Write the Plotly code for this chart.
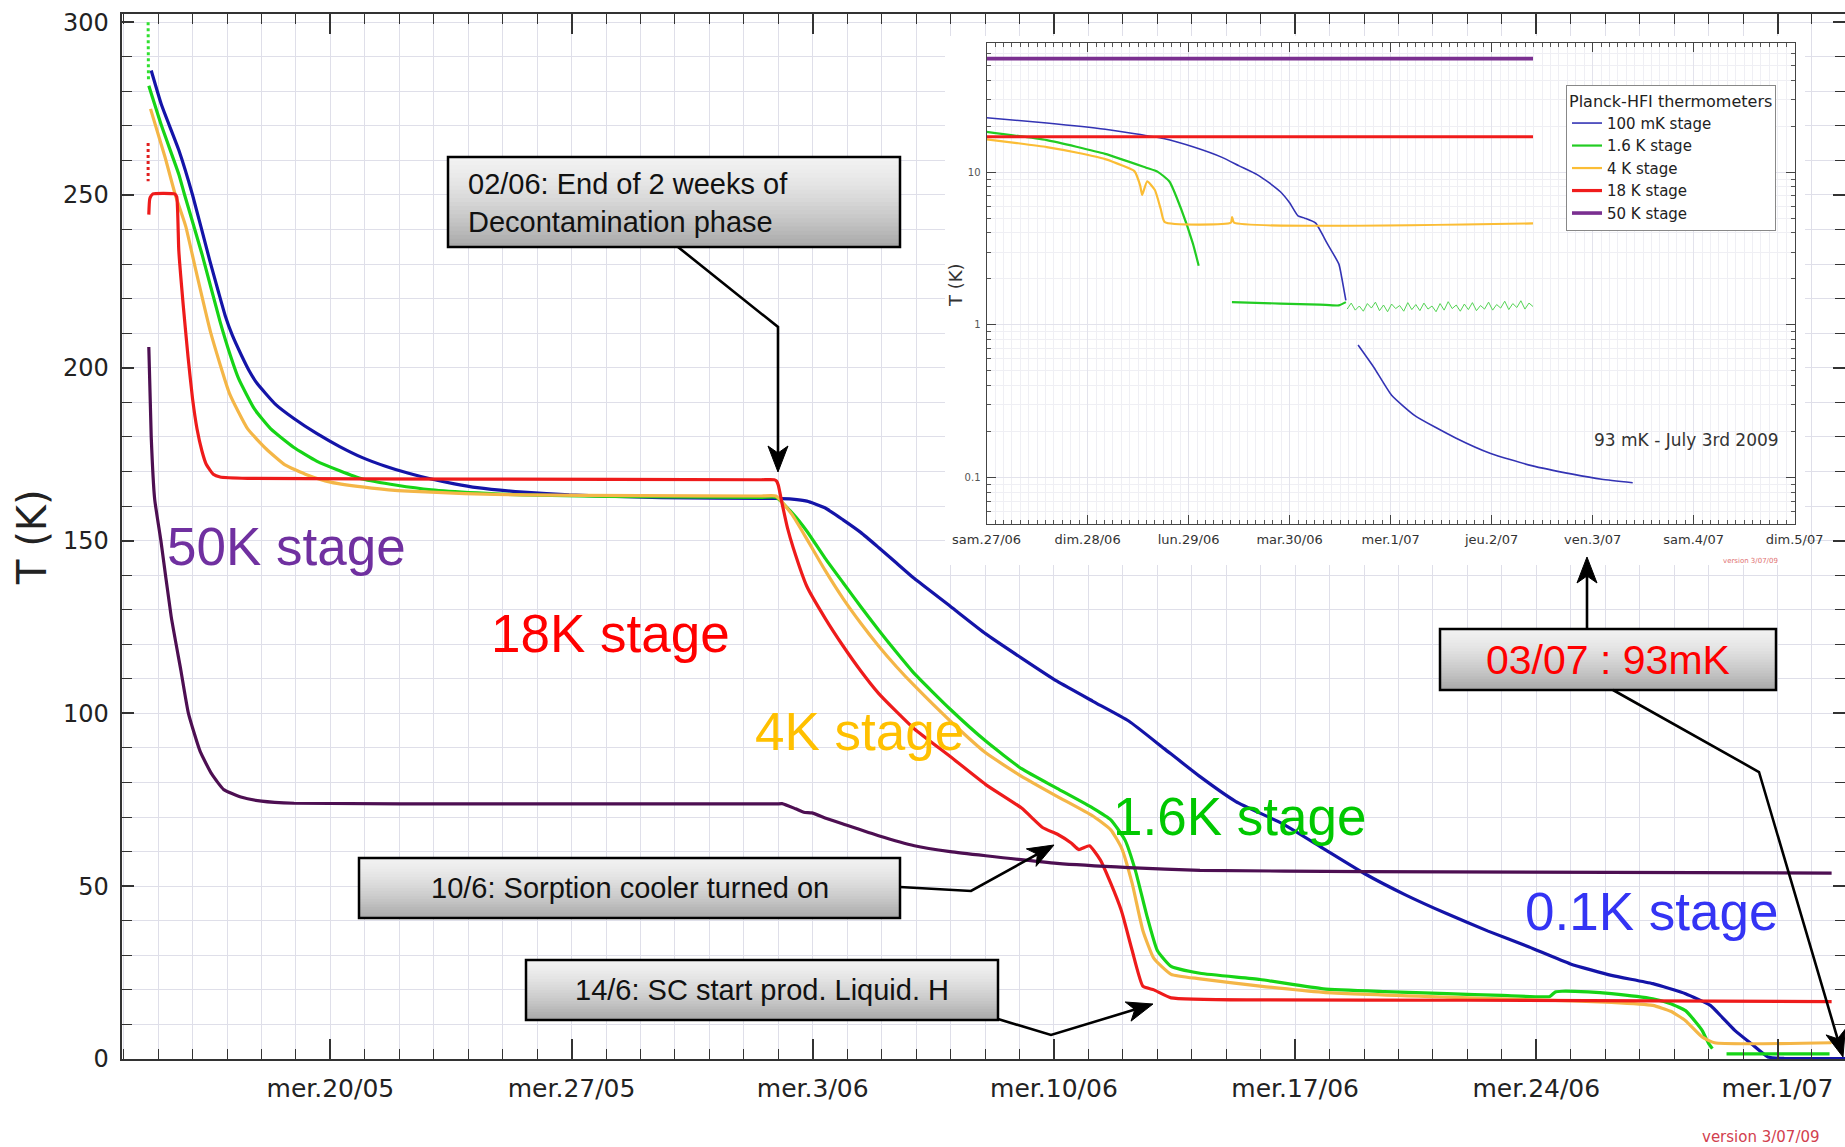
import plotly.graph_objects as go
import pandas as pd

W, H = 1845, 1147

# ---------------- main panel data: day offset from 2009-05-20 00:00, temperature in K
BLUE_DAY = [-5.2, -4.9, -4.4, -4.0, -3.5, -3.25, -3.05, -2.85, -2.6, -2.35, -2.13, -1.6, -1.07, -0.4, 0.27, 0.93,
            1.6, 2.27, 2.93, 3.6, 4.26, 5.6, 6.93, 9.6, 12.93, 13.4, 13.83, 14.35, 14.88, 15.4, 15.91, 16.43,
            16.95, 17.99, 19.02, 20.06, 21.09, 22.13, 23.17, 24.2, 25.24, 26.28, 27.63, 28.8, 30.02, 31.2, 32.41,
            33.6, 34.79, 35.99, 37.18, 38.38, 39.33, 40.05, 40.4, 40.76, 41.24, 41.72, 42.2, 44.1]
BLUE_T = [286, 276, 263, 250, 231, 222, 215, 209.5, 204, 199, 195.5, 189.5, 185.4, 181, 177.2, 174,
          171.5, 169.5, 167.8, 166.4, 165.3, 164, 163.2, 162.4, 162.2, 162.0, 161.4, 159.5, 156, 152.3, 148, 143.5,
          139, 131, 123, 116, 109.3, 103.5, 97.8, 89.8, 81.7, 74.5, 68.1, 61, 53.6, 47.5, 42,
          37, 32.4, 27.5, 24.2, 21.8, 18.9, 15.5, 12, 8.3, 4.4, 0.6, 0.15, 0.1]

GREEN_DAY = [-5.27, -4.9, -4.4, -4.23, -3.73, -3.2, -2.9, -2.66, -2.2, -1.73, -1.07, -0.4, 0.27, 0.93, 1.93, 2.93,
             4.26, 5.6, 8.0, 12.5, 12.93, 13.4, 13.83, 14.35, 14.88, 15.4, 15.91, 16.43, 16.95, 17.99, 19.02,
             20.06, 21.09, 22.13, 22.65, 23.06, 23.37, 23.69, 24.0, 24.4, 25.24, 26.98, 28.82, 30.6, 32.41, 34.0,
             35.39, 35.55, 35.75, 36.5, 37.18, 38.38, 38.9, 39.33, 39.6, 39.81, 40.0, 40.11, None, 40.52, 43.51]
GREEN_T = [281.6, 270, 256, 250, 233, 213.3, 203.5, 196.8, 188, 182.3, 177, 173, 170.2, 167.8, 166, 164.7,
           163.8, 163.2, 162.8, 162.5, 162.5, 158, 152.7, 145, 137.8, 130.8, 124.1, 117.7, 111.5, 101.2, 92,
           84, 78.3, 72.6, 69.2, 63.4, 54.3, 41.7, 31.4, 26.8, 24.8, 23, 20.3, 19.5, 18.9, 18.4,
           18.1, 19.4, 19.6, 19.4, 18.9, 17.4, 16, 14.0, 11, 8.3, 4.5, 3.0, None, 1.5, 1.5]

ORANGE_DAY = [-5.22, -4.8, -4.5, -4.2, -3.9, -3.47, -2.93, -2.4, -1.86, -1.33, -0.67, 0, 1.2, 2.26, 3.9, 5.6,
              9.0, 12.5, 12.93, 13.4, 13.83, 14.35, 14.88, 15.4, 15.91, 16.43, 16.95, 17.99, 19.02, 20.06,
              21.09, 22.13, 22.65, 22.96, 23.27, 23.58, 23.9, 24.4, 25.24, 26.98, 28.82, 32.41, 35.0, 37.18,
              38.38, 38.9, 39.33, 39.81, 40.17, 43.57]
ORANGE_T = [274.9, 261, 250, 241, 228, 210, 192.6, 182.3, 176.5, 172, 169, 166.9, 165.2, 164.3, 163.6, 163.2,
            163, 162.9, 162.9, 157.5, 150.4, 141.5, 133.2, 126, 119.5, 113.5, 108, 97.8, 88.6, 81.8,
            76, 70.3, 66.3, 61.1, 50.8, 37.2, 29.1, 24.5, 23.2, 21.1, 19.3, 17.9, 17.1, 16.4,
            15.5, 13.8, 11.1, 6.4, 4.7, 4.7]

RED_DAY = [-5.27, -5.24, -5.15, -4.52, -4.46, -4.4, -4.27, -4.13, -4.0, -3.87, -3.73, -3.6, -3.4, -3.2, -2.4,
           4.0, 12.5, 12.88, 12.95, 13.0, 13.11, 13.27, 13.43, 13.83, 14.36, 14.88, 15.4, 15.91, 16.43, 16.95,
           17.99, 19.02, 20.06, 20.68, 21.09, 21.5, 21.72, 22.03, 22.34, 22.65, 22.96, 23.27, 23.58, 23.9,
           24.4, 26.98, 33.0, 43.57]
RED_T = [244.3, 249, 250.3, 250.3, 249.5, 234, 218, 203, 191, 182.3, 176, 172, 169.2, 168.4, 168,
         167.8, 167.6, 167.6, 167.2, 166, 160.7, 153.5, 148, 136.7, 127.5, 119.5, 112.2, 105.8, 100.5, 95.5,
         87.5, 79.4, 72.6, 66.9, 65.1, 62.5, 60.6, 61.7, 57.7, 50.8, 42.8, 31.4, 21.1, 20,
         17.7, 17.1, 17.0, 16.6]

PURPLE_DAY = [-5.27, -5.2, -5.1, -4.92, -4.62, -4.34, -4.12, -3.78, -3.44, -3.1, -2.6, -2.0, -1.05, 5.0, 12.6,
              12.95, 13.11, 13.5, 13.74, 13.97, 14.4, 14.88, 15.91, 16.95, 17.99, 19.02, 21.09, 23.17, 25.24,
              30.0, 43.57]
PURPLE_T = [206, 180, 162, 150, 128, 112.5, 100, 89, 82.4, 78, 75.8, 74.6, 74, 73.8, 73.8,
            73.8, 73.9, 72.4, 71.4, 71.2, 69.6, 68, 64.6, 61.7, 60, 58.8, 56.6, 55.4, 54.6,
            54.2, 53.8]

# early noisy readings (drawn dashed)
GREEN_EARLY_DAY = [-5.29, -5.28]
GREEN_EARLY_T = [300, 283]
RED_EARLY_DAY = [-5.29, -5.29]
RED_EARLY_T = [265, 254]

WED_TICKS = ['2009-05-20', '2009-05-27', '2009-06-03', '2009-06-10', '2009-06-17', '2009-06-24', '2009-07-01']
WED_LABELS = ['mer.20/05', 'mer.27/05', 'mer.3/06', 'mer.10/06', 'mer.17/06', 'mer.24/06', 'mer.1/07']

# ---------------- inset data: day offset from 2009-06-27 00:00, temperature in K (log)
IN_BLUE_DAY = [0, 0.596, 1.174, 1.752, 2.05, 2.331, 2.5, 2.678, 2.8, 2.909, 3.0, 3.083, 3.15, 3.256, 3.372,
               3.488, 3.517, 3.557, None, 3.678, 3.835, 4.008, 4.24, 4.644, 4.991, 5.396, 5.801, 6.09, 6.397]
IN_BLUE_T = [22.7, 21.0, 19.1, 16.6, 14.6, 12.5, 11.0, 9.64, 8.5, 7.44, 6.3, 5.17, 5.0, 4.66, 3.42,
             2.5, 2.03, 1.45, None, 0.739, 0.527, 0.348, 0.255, 0.182, 0.144, 0.12, 0.1055, 0.0977, 0.0927]

IN_GREEN_DAY = [0, 0.596, 1.174, 1.579, 1.695, 1.81, 1.926, 2.042, 2.1, None, 2.429, 2.909, 3.3, 3.488, 3.557]
IN_GREEN_T = [18.35, 16.2, 13.17, 10.7, 10.05, 8.69, 5.74, 3.42, 2.44, None, 1.41, 1.38, 1.36, 1.342, 1.41]

# scattered 1.6 K readings after the 100 mK transition
IN_NOISE_DAY = [3.57, 3.61, 3.65, 3.69, 3.73, 3.77, 3.81, 3.85, 3.89, 3.93, 3.97, 4.01, 4.05, 4.09, 4.13,
                4.17, 4.21, 4.25, 4.29, 4.33, 4.37, 4.41, 4.45, 4.49, 4.53, 4.57, 4.61, 4.65, 4.69, 4.73,
                4.77, 4.81, 4.85, 4.89, 4.93, 4.97, 5.01, 5.05, 5.09, 5.13, 5.17, 5.21, 5.25, 5.29, 5.33,
                5.37, 5.41]
IN_NOISE_T = [1.27, 1.39, 1.25, 1.33, 1.23, 1.38, 1.29, 1.41, 1.24, 1.35, 1.22, 1.37, 1.28, 1.34, 1.23,
              1.40, 1.26, 1.36, 1.24, 1.39, 1.27, 1.33, 1.22, 1.38, 1.25, 1.42, 1.28, 1.35, 1.23, 1.37,
              1.26, 1.40, 1.24, 1.34, 1.27, 1.41, 1.25, 1.36, 1.29, 1.43, 1.26, 1.38, 1.30, 1.44, 1.27,
              1.39, 1.32]

IN_ORANGE_DAY = [0, 0.3, 0.596, 0.9, 1.174, 1.35, 1.463, 1.52, 1.54, 1.59, 1.666, 1.724, 1.764, 2.418, 2.43,
                 2.45, 5.41]
IN_ORANGE_T = [16.4, 15.5, 14.6, 13.4, 12.18, 11.0, 10.16, 8.2, 7.1, 8.7, 7.64, 5.74, 4.71, 4.67, 5.09,
               4.67, 4.62]

IN_RED_DAY = [0, 5.41]
IN_RED_T = [17.06, 17.06]
IN_PURPLE_DAY = [0, 5.41]
IN_PURPLE_T = [55.4, 55.4]

INSET_TICKS = ['2009-06-27', '2009-06-28', '2009-06-29', '2009-06-30', '2009-07-01', '2009-07-02',
               '2009-07-03', '2009-07-04', '2009-07-05']
INSET_LABELS = ['sam.27/06', 'dim.28/06', 'lun.29/06', 'mar.30/06', 'mer.1/07', 'jeu.2/07',
                'ven.3/07', 'sam.4/07', 'dim.5/07']


def to_dates(base, days):
    b = pd.Timestamp(base)
    return [None if d is None else (b + pd.Timedelta(days=d)).strftime('%Y-%m-%d %H:%M:%S') for d in days]


def P(x, y):
    return x / W, 1 - y / H


fig = go.Figure()

MAIN = '2009-05-20'
main_series = [
    (BLUE_DAY, BLUE_T, '#1414a8'),
    (GREEN_DAY, GREEN_T, '#16d416'),
    (ORANGE_DAY, ORANGE_T, '#f4b647'),
    (RED_DAY, RED_T, '#ee1b1b'),
    (PURPLE_DAY, PURPLE_T, '#4d0f52'),
]
for days, temps, col in main_series:
    fig.add_trace(go.Scatter(x=to_dates(MAIN, days), y=temps, mode='lines',
                             line=dict(color=col, width=3.2, shape='spline', smoothing=0.45),
                             showlegend=False, hoverinfo='skip', connectgaps=False))
fig.add_trace(go.Scatter(x=to_dates(MAIN, GREEN_EARLY_DAY), y=GREEN_EARLY_T, mode='lines',
                         line=dict(color='#30e030', width=3, dash='dot'), showlegend=False, hoverinfo='skip'))
fig.add_trace(go.Scatter(x=to_dates(MAIN, RED_EARLY_DAY), y=RED_EARLY_T, mode='lines',
                         line=dict(color='#e02020', width=3, dash='dot'), showlegend=False, hoverinfo='skip'))

# cover subplot (white panel behind the inset)
fig.add_trace(go.Scatter(x=[0.5], y=[0.5], xaxis='x2', yaxis='y2', mode='markers', marker=dict(opacity=0),
                         showlegend=False, hoverinfo='skip'))

INS = '2009-06-27'
inset_series = [
    (IN_BLUE_DAY, IN_BLUE_T, '#3333b4', 1.6, '100 mK stage'),
    (IN_GREEN_DAY, IN_GREEN_T, '#22cc22', 2.2, '1.6 K stage'),
    (IN_ORANGE_DAY, IN_ORANGE_T, '#fbbd35', 2.2, '4 K stage'),
    (IN_RED_DAY, IN_RED_T, '#f01c1c', 3.2, '18 K stage'),
    (IN_PURPLE_DAY, IN_PURPLE_T, '#7a2f90', 3.6, '50 K stage'),
]
for days, temps, col, wd, name in inset_series:
    fig.add_trace(go.Scatter(x=to_dates(INS, days), y=temps, mode='lines',
                             line=dict(color=col, width=wd, shape='spline', smoothing=0.5),
                             name=name, xaxis='x3', yaxis='y3', hoverinfo='skip', connectgaps=False))
fig.add_trace(go.Scatter(x=to_dates(INS, IN_NOISE_DAY), y=IN_NOISE_T, mode='lines',
                         line=dict(color='#55d455', width=1), showlegend=False,
                         xaxis='x3', yaxis='y3', hoverinfo='skip'))

GRID = '#dfdfe9'
TICKC = '#333333'
fig.update_layout(
    width=W, height=H, margin=dict(l=0, r=0, t=0, b=0),
    paper_bgcolor='white', plot_bgcolor='white', hovermode=False,
    xaxis=dict(type='date', range=['2009-05-13 22:30', '2009-07-02 23:00'], domain=[121.5 / W, 1], anchor='y',
               tickmode='array', tickvals=WED_TICKS, ticktext=WED_LABELS,
               ticks='inside', ticklen=20, tickwidth=1.5, tickcolor=TICKC,
               showline=True, linecolor=TICKC, linewidth=2, mirror='ticks',
               showgrid=True, gridcolor=GRID, gridwidth=1, zeroline=False,
               minor=dict(tickmode='linear', tick0='2009-05-14', dtick=86400000, ticks='inside', ticklen=10,
                          tickwidth=1.2, tickcolor=TICKC, showgrid=True, gridcolor=GRID, gridwidth=1),
               tickfont=dict(family='DejaVu Sans', size=25, color='#222'), ticklabelstandoff=6,
               automargin=False, fixedrange=True),
    yaxis=dict(range=[0, 302.5], domain=[1 - 1059 / H, 1 - 13.5 / H], anchor='x',
               tickmode='linear', tick0=0, dtick=50, ticks='inside', ticklen=12, tickwidth=1.5, tickcolor=TICKC,
               showline=True, linecolor=TICKC, linewidth=2, mirror='ticks',
               showgrid=True, gridcolor=GRID, gridwidth=1, zeroline=False,
               minor=dict(tickmode='linear', tick0=0, dtick=10, ticks='inside', ticklen=10, tickwidth=1.2,
                          tickcolor=TICKC, showgrid=True, gridcolor=GRID, gridwidth=1),
               tickfont=dict(family='DejaVu Sans', size=24, color='#222'), ticklabelstandoff=6,
               automargin=False, fixedrange=True),
    xaxis2=dict(domain=[945 / W, 1805 / W], anchor='y2', range=[0, 1], showgrid=False, showline=False,
                zeroline=False, showticklabels=False, ticks='', fixedrange=True),
    yaxis2=dict(domain=[1 - 565 / H, 1 - 36 / H], anchor='x2', range=[0, 1], showgrid=False, showline=False,
                zeroline=False, showticklabels=False, ticks='', fixedrange=True),
    xaxis3=dict(type='date', domain=[986.6 / W, 1794.6 / W], anchor='y3', range=['2009-06-27', '2009-07-05'],
                tickmode='array', tickvals=INSET_TICKS, ticktext=INSET_LABELS,
                ticks='inside', ticklen=9, tickwidth=1, tickcolor='#444',
                showline=True, linecolor='#444', linewidth=1.2, mirror='ticks',
                showgrid=True, gridcolor='#e3e3ec', gridwidth=1, zeroline=False,
                minor=dict(tickmode='linear', tick0='2009-06-27', dtick=7200000, ticks='inside', ticklen=4,
                           tickwidth=0.8, tickcolor='#555', showgrid=True, gridcolor='#efeff4', gridwidth=1),
                tickfont=dict(family='DejaVu Sans', size=13, color='#333'), ticklabelstandoff=3,
                automargin=False, fixedrange=True),
    yaxis3=dict(type='log', domain=[1 - 524 / H, 1 - 42.7 / H], anchor='x3', range=[-1.303, 1.8475],
                tickmode='array', tickvals=[0.1, 1, 10], ticktext=['0.1', '1', '10'],
                ticks='inside', ticklen=9, tickwidth=1, tickcolor='#444',
                showline=True, linecolor='#444', linewidth=1.2, mirror='ticks',
                showgrid=True, gridcolor='#e3e3ec', gridwidth=1, zeroline=False,
                minor=dict(tickmode='linear', dtick='D1', ticks='inside', ticklen=4, tickwidth=0.8,
                           tickcolor='#555', showgrid=True, gridcolor='#efeff4', gridwidth=1),
                tickfont=dict(family='DejaVu Sans', size=10, color='#555'), ticklabelstandoff=3,
                automargin=False, fixedrange=True),
    showlegend=True,
    legend=dict(x=1566 / W, y=1 - 85 / H, xanchor='left', yanchor='top', bgcolor='white',
                bordercolor='#888', borderwidth=1, tracegroupgap=0,
                font=dict(family='DejaVu Sans', size=15, color='#222'),
                title=dict(text='Planck-HFI thermometers', font=dict(family='DejaVu Sans', size=16, color='#222'))),
)

shapes = [dict(type='rect', xref='x2', yref='y2', x0=0, x1=1, y0=0, y1=1, fillcolor='white',
               line=dict(width=0), layer='below')]


def add_box(x0, y0, x1, y1, n=22):
    top = (242, 242, 242)
    bot = (168, 168, 168)
    for i in range(n):
        ya = y0 + (y1 - y0) * i / n
        yb = y0 + (y1 - y0) * (i + 1) / n + 0.8
        t = ((i + 0.5) / n) ** 1.4
        c = tuple(int(round(top[k] + (bot[k] - top[k]) * t)) for k in range(3))
        shapes.append(dict(type='rect', xref='paper', yref='paper', x0=x0 / W, x1=x1 / W,
                           y0=1 - min(yb, y1) / H, y1=1 - ya / H, fillcolor='rgb(%d,%d,%d)' % c,
                           line=dict(width=0), layer='above'))
    shapes.append(dict(type='rect', xref='paper', yref='paper', x0=x0 / W, x1=x1 / W, y0=1 - y1 / H,
                       y1=1 - y0 / H, fillcolor='rgba(0,0,0,0)', line=dict(color='black', width=2.5),
                       layer='above'))


def add_arrow(pts, head_len=26.0, head_w=10.0, notch=7.0):
    (px, py), (tx, ty) = pts[-2], pts[-1]
    L = ((tx - px) ** 2 + (ty - py) ** 2) ** 0.5
    dx, dy = (tx - px) / L, (ty - py) / L
    nx, ny = -dy, dx
    base = (tx - (head_len - notch) * dx, ty - (head_len - notch) * dy)
    line_pts = list(pts[:-1]) + [base]
    path = 'M ' + ' L '.join('%.5f,%.5f' % P(x, y) for x, y in line_pts)
    shapes.append(dict(type='path', xref='paper', yref='paper', path=path,
                       line=dict(color='black', width=2.6), layer='above'))
    head = [(tx, ty),
            (tx - head_len * dx + head_w * nx, ty - head_len * dy + head_w * ny),
            base,
            (tx - head_len * dx - head_w * nx, ty - head_len * dy - head_w * ny)]
    hp = 'M ' + ' L '.join('%.5f,%.5f' % P(x, y) for x, y in head) + ' Z'
    shapes.append(dict(type='path', xref='paper', yref='paper', path=hp, fillcolor='black',
                       line=dict(color='black', width=1), layer='above'))


add_box(448, 157, 900, 247)
add_box(359, 858, 900, 918)
add_box(526, 960, 998, 1020)
add_box(1440, 629, 1776, 690)

add_arrow([(678, 247), (778, 327), (778, 472)])
add_arrow([(900, 887), (971, 891), (1054, 845)])
add_arrow([(998, 1019), (1051, 1035), (1153, 1004)])
add_arrow([(1587, 629), (1587, 557)])
add_arrow([(1613, 690), (1759, 772), (1843, 1057)])

fig.update_layout(shapes=shapes)

ARIAL = 'Liberation Sans, Arial, sans-serif'
ann = []


def text(t, x, y, size, color, family=ARIAL, xanchor='left', yanchor='middle', align='left', angle=0):
    xp, yp = P(x, y)
    ann.append(dict(text=t, x=xp, y=yp, xref='paper', yref='paper', showarrow=False, xanchor=xanchor,
                    yanchor=yanchor, align=align, textangle=angle,
                    font=dict(family=family, size=size, color=color)))


text('02/06: End of 2 weeks of<br>Decontamination phase', 466, 203, 29, '#111')
text('10/6: Sorption cooler turned on', 629.5, 888, 29, '#111', xanchor='center', align='center')
text('14/6: SC start prod. Liquid. H', 762, 990, 29, '#111', xanchor='center', align='center')
text('03/07 : 93mK', 1608, 660, 41, '#ff0000', xanchor='center', align='center')

text('50K stage', 165, 546, 53, '#7030a0')
text('18K stage', 489, 633, 53, '#ff0000')
text('4K stage', 753, 731, 53, '#ffc000')
text('1.6K stage', 1111, 816, 53, '#00c800')
text('0.1K stage', 1523, 911, 53, '#3434f4')

text('T (K)', 32, 537, 40, '#222', family='DejaVu Sans', xanchor='center', angle=-90)
text('T (K)', 955, 285, 18, '#333', family='DejaVu Sans', xanchor='center', angle=-90)
text('93 mK - July 3rd 2009', 1781, 440, 17, '#333', family='DejaVu Sans', xanchor='right')
text('version 3/07/09', 1822, 1137, 15, '#d2404e', family='DejaVu Sans', xanchor='right')
text('version 3/07/09', 1780, 561, 7, '#e07070', family='DejaVu Sans', xanchor='right')

fig.update_layout(annotations=ann)

fig.write_html('out.html')
